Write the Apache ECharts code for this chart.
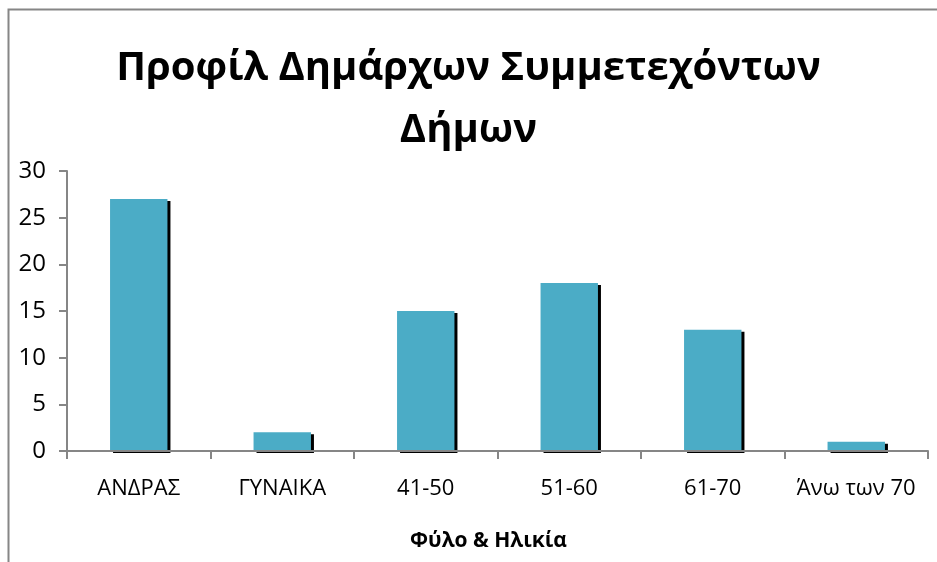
<!DOCTYPE html>
<html>
<head>
<meta charset="utf-8">
<script src="https://cdn.jsdelivr.net/npm/echarts@6/dist/echarts.min.js"></script>
<style>
html, body { margin: 0; padding: 0; background: #fff; }
#main { width: 937px; height: 562px; }
</style>
</head>
<body>
<div id="main"></div>
<script>
// data
var categories = ["ΑΝΔΡΑΣ", "ΓΥΝΑΙΚΑ", "41-50", "51-60", "61-70", "Άνω των 70"];
var values = [27, 2, 15, 18, 13, 1];
var titleText = "Προφίλ Δημάρχων Συμμετεχόντων\nΔήμων";
var xName = "Φύλο & Ηλικία";

var axisGray = "#868686";
var font = "'Open Sans', 'Noto Sans', sans-serif";

var myChart = echarts.init(document.getElementById('main'));
var option = {
	backgroundColor: "#fff",
	animation: false,
	title: {
		text: titleText,
		left: "center",
		top: 33,
		textStyle: {
			fontFamily: font,
			fontWeight: "bold",
			fontSize: 40,
			lineHeight: 62,
			color: "#000"
		}
	},
	graphic: [{
		type: "polyline",
		shape: { points: [[8.5, 570], [8.5, 9.5], [945, 9.5]] },
		style: { fill: null, stroke: axisGray, lineWidth: 2 },
		silent: true
	}],
	grid: { left: 67, right: 9, top: 171, bottom: 111 },
	xAxis: {
		type: "category",
		data: categories,
		z: 5,
		name: xName,
		nameLocation: "middle",
		nameGap: 80,
		nameTextStyle: { fontFamily: font, fontWeight: "bold", fontSize: 21, color: "#000", padding: [0, 18, 0, 0] },
		axisLine: { lineStyle: { color: axisGray, width: 2 } },
		axisTick: { show: true, length: 8, lineStyle: { color: axisGray, width: 2 } },
		axisLabel: { fontFamily: font, fontSize: 22, color: "#000", margin: 27, interval: 0 }
	},
	yAxis: {
		type: "value",
		min: 0,
		max: 30,
		interval: 5,
		axisLine: { show: true, lineStyle: { color: axisGray, width: 2 } },
		axisTick: { show: true, length: 8, lineStyle: { color: axisGray, width: 2 } },
		splitLine: { show: false },
		axisLabel: { fontFamily: font, fontSize: 24, color: "#000", margin: 21 }
	},
	series: [{
		type: "bar",
		data: values,
		z: 1,
		barWidth: "40%",
		itemStyle: {
			color: "#4bacc6",
			shadowColor: "#000",
			shadowOffsetX: 3,
			shadowOffsetY: 2,
			shadowBlur: 0
		}
	}]
};
myChart.setOption(option);
</script>
</body>
</html>
